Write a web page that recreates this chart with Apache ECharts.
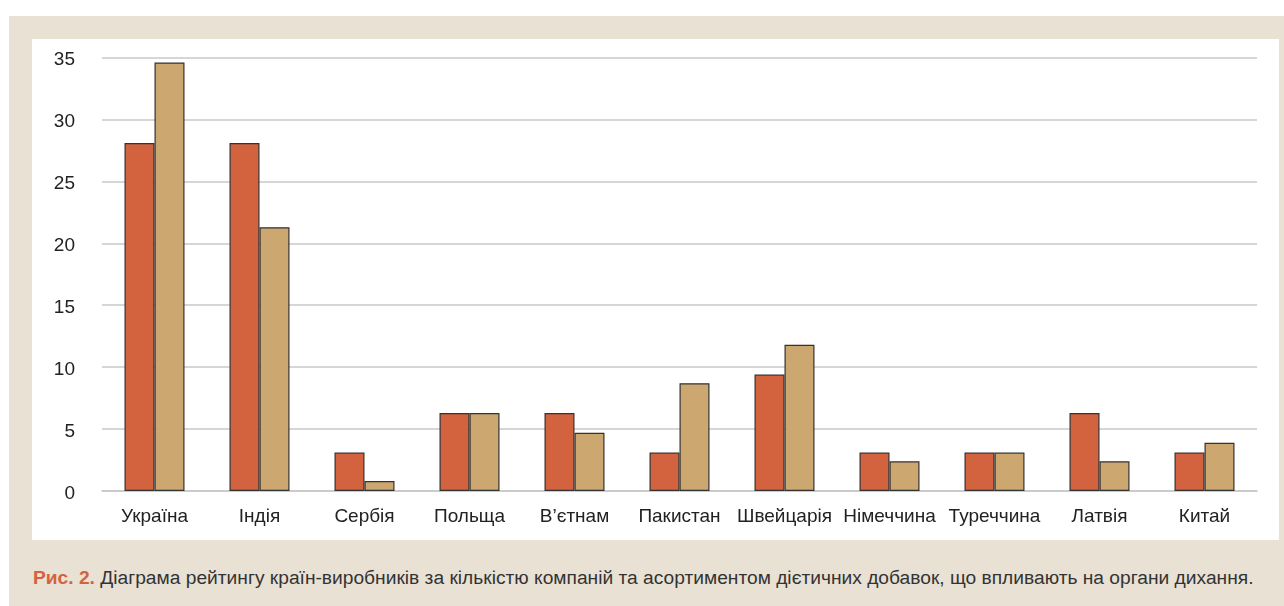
<!DOCTYPE html>
<html>
<head>
<meta charset="utf-8">
<script src="https://cdn.jsdelivr.net/npm/echarts@6/dist/echarts.min.js"></script>
<style>
html,body{margin:0;padding:0;background:#fff;width:1284px;height:606px;overflow:hidden;font-family:"Liberation Sans",Arial,sans-serif;}
#beige{position:absolute;left:9px;top:16px;width:1275px;height:590px;background:#e9e1d3;}
#panel{position:absolute;left:32px;top:39px;width:1247px;height:501px;background:#fff;}
#chart{position:absolute;left:32px;top:39px;width:1247px;height:501px;}
#cap{position:absolute;left:33px;top:567px;font-size:19.2px;line-height:22px;color:#333;white-space:nowrap;}
#cap b{color:#d4623c;}
</style>
</head>
<body>
<div id="beige"></div>
<div id="panel"></div>
<div id="chart"></div>
<div id="cap"><b>Рис. 2.</b> Діаграма рейтингу країн-виробників за кількістю компаній та асортиментом дієтичних добавок, що впливають на органи дихання.</div>
<script>
const categories = ['Україна','Індія','Сербія','Польща','В’єтнам','Пакистан','Швейцарія','Німеччина','Туреччина','Латвія','Китай'];
const companies = [28.1, 28.1, 3.1, 6.3, 6.3, 3.1, 9.4, 3.1, 3.1, 6.3, 3.1];
const assortment = [34.6, 21.3, 0.8, 6.3, 4.7, 8.7, 11.8, 2.4, 3.1, 2.4, 3.9];
const yTicks = [0, 5, 10, 15, 20, 25, 30, 35];

const chart = echarts.init(document.getElementById('chart'), null, {renderer:'canvas'});
chart.setOption({
  animation:false,
  grid:{left:70, right:22, top:18.5, bottom:49},
  xAxis:{
    type:'category', data:categories,
    axisLine:{show:true, lineStyle:{color:'#c8c8c8', width:1.5}},
    axisTick:{show:false},
    axisLabel:{interval:0, color:'#222', fontSize:19, margin:16, fontFamily:'Liberation Sans, Arial'}
  },
  yAxis:{
    type:'value', min:yTicks[0], max:yTicks[yTicks.length-1], interval:5,
    axisLine:{show:false}, axisTick:{show:false},
    axisLabel:{
      color:'#222', fontSize:19, margin:27, fontFamily:'Liberation Sans, Arial',
      formatter:function(v){return '{a|' + v + '}';},
      rich:{a:{color:'#222', fontSize:19, fontFamily:'Liberation Sans, Arial', padding:[5,0,0,0]}}
    },
    splitLine:{lineStyle:{color:'#c8c8c8', width:1.5}}
  },
  series:[
    {type:'bar', data:companies, barWidth:30, barGap:'0%',
     itemStyle:{color:'#d3633e', borderColor:'#333', borderWidth:1.2}},
    {type:'bar', data:assortment, barWidth:30, barGap:'0%',
     itemStyle:{color:'#cda770', borderColor:'#333', borderWidth:1.2}}
  ]
});
</script>
</body>
</html>
